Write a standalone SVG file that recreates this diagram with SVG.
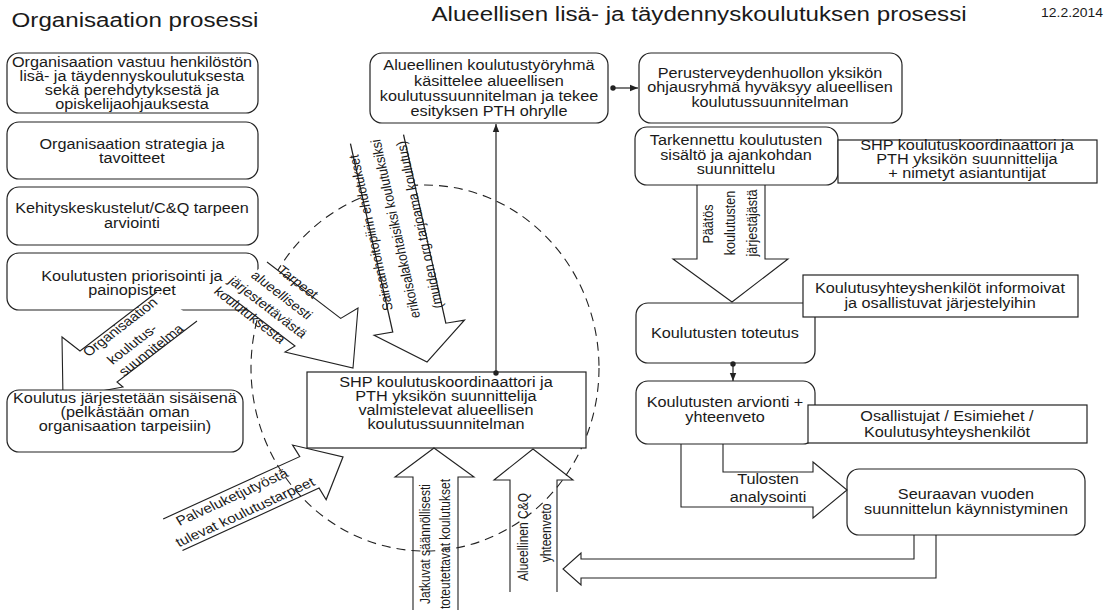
<svg xmlns="http://www.w3.org/2000/svg" width="1107" height="610" viewBox="0 0 1107 610">
<defs>
<style>
text{font-family:"Liberation Sans",Arial,sans-serif;fill:#1a1a1a}
.b{font-size:14px;text-anchor:middle;transform:scaleX(1.16);transform-box:fill-box;transform-origin:center}
.t{font-size:21px;text-anchor:middle;transform:scaleX(1.15);transform-box:fill-box;transform-origin:center}
.d{font-size:12px;text-anchor:middle;transform:scaleX(1.16);transform-box:fill-box;transform-origin:center}
.r{font-size:12px;text-anchor:middle}
.rb{fill:#fff;stroke:#222;stroke-width:1.2}
.ba{fill:none;stroke:#222;stroke-width:1.1;stroke-linejoin:miter}
.bw{fill:#fff;stroke:#222;stroke-width:1.1;stroke-linejoin:miter}
.ln{fill:none;stroke:#222;stroke-width:1.2}
.el{fill:none;stroke:#222;stroke-width:1.1;stroke-dasharray:9 6}
</style>
<marker id="ah" viewBox="0 0 10 10" refX="10" refY="5" markerWidth="9" markerHeight="8" orient="auto" markerUnits="userSpaceOnUse"><path d="M0,1 L10,5 L0,9z" fill="#222"/></marker>
<marker id="dt" viewBox="0 0 10 10" refX="5" refY="5" markerWidth="6" markerHeight="6" orient="auto" markerUnits="userSpaceOnUse"><circle cx="5" cy="5" r="4.5" fill="#222"/></marker>
</defs>
<rect width="1107" height="610" fill="#fff"/>

<g id="titles">
<text class="t" x="135" y="27">Organisaation prosessi</text>
<text class="t" x="699" y="21">Alueellisen lisä- ja täydennyskoulutuksen prosessi</text>
<text class="d" x="1072" y="17">12.2.2014</text>
</g>

<ellipse id="region" class="el" cx="425" cy="368" rx="174" ry="183"/>

<g id="n1"><rect class="rb" x="7" y="53" width="251" height="60" rx="12"/>
<text class="b" x="132" y="67">Organisaation vastuu henkilöstön</text>
<text class="b" x="132" y="81">lisä- ja täydennyskoulutuksesta</text>
<text class="b" x="132" y="95">sekä perehdytyksestä ja</text>
<text class="b" x="132" y="109">opiskelijaohjauksesta</text></g>

<g id="n2"><rect class="rb" x="7" y="122" width="251" height="57" rx="12"/>
<text class="b" x="132" y="149">Organisaation strategia ja</text>
<text class="b" x="132" y="163">tavoitteet</text></g>

<g id="n3"><rect class="rb" x="7" y="187" width="251" height="58" rx="12"/>
<text class="b" x="132" y="213">Kehityskeskustelut/C&amp;Q tarpeen</text>
<text class="b" x="132" y="228">arviointi</text></g>

<g id="n4"><rect class="rb" x="7" y="253" width="251" height="57" rx="12"/>
<text class="b" x="132" y="281">Koulutusten priorisointi ja</text>
<text class="b" x="132" y="295">painopisteet</text></g>

<g id="n6"><rect class="rb" x="370" y="53" width="238" height="70" rx="12"/>
<text class="b" x="489" y="70">Alueellinen koulutustyöryhmä</text>
<text class="b" x="489" y="86">käsittelee alueellisen</text>
<text class="b" x="489" y="101">koulutussuunnitelman ja tekee</text>
<text class="b" x="489" y="116">esityksen PTH ohrylle</text></g>

<g id="n7"><rect class="rb" x="307" y="372" width="279" height="76"/>
<text class="b" x="446" y="387">SHP koulutuskoordinaattori ja</text>
<text class="b" x="446" y="401">PTH yksikön suunnittelija</text>
<text class="b" x="446" y="415">valmistelevat alueellisen</text>
<text class="b" x="446" y="429">koulutussuunnitelman</text></g>

<g id="n8"><rect class="rb" x="639" y="53" width="263" height="70" rx="12"/>
<text class="b" x="770" y="78">Perusterveydenhuollon yksikön</text>
<text class="b" x="770" y="92">ohjausryhmä hyväksyy alueellisen</text>
<text class="b" x="770" y="107">koulutussuunnitelman</text></g>

<g id="n9"><rect class="rb" x="635" y="127" width="203" height="58" rx="12"/>
<text class="b" x="736" y="145">Tarkennettu koulutusten</text>
<text class="b" x="736" y="160">sisältö ja ajankohdan</text>
<text class="b" x="736" y="174">suunnittelu</text></g>

<g id="n10"><rect class="rb" x="838" y="140" width="259" height="43"/>
<text class="b" x="967" y="150">SHP koulutuskoordinaattori ja</text>
<text class="b" x="967" y="164">PTH yksikön suunnittelija</text>
<text class="b" x="967" y="178">+ nimetyt asiantuntijat</text></g>

<g id="n11"><rect class="rb" x="636" y="303" width="179" height="60" rx="12"/>
<text class="b" x="725" y="338">Koulutusten toteutus</text></g>

<g id="n12"><rect class="rb" x="803" y="275" width="275" height="42"/>
<text class="b" x="940" y="293">Koulutusyhteyshenkilöt informoivat</text>
<text class="b" x="940" y="308">ja osallistuvat järjestelyihin</text></g>

<g id="n13"><rect class="rb" x="636" y="381" width="179" height="63" rx="12"/>
<text class="b" x="725" y="407">Koulutusten arvionti +</text>
<text class="b" x="725" y="422">yhteenveto</text></g>

<g id="n14"><rect class="rb" x="808" y="405" width="279" height="38"/>
<text class="b" x="947" y="421">Osallistujat / Esimiehet /</text>
<text class="b" x="947" y="437">Koulutusyhteyshenkilöt</text></g>

<g id="n15"><rect class="rb" x="847" y="469" width="238" height="66" rx="12"/>
<text class="b" x="966" y="499">Seuraavan vuoden</text>
<text class="b" x="966" y="514">suunnittelun käynnistyminen</text></g>

<g id="connectors">
<line class="ln" x1="496" y1="373" x2="496" y2="124" marker-start="url(#dt)" marker-end="url(#ah)"/>
<line class="ln" x1="613" y1="88" x2="638" y2="88" marker-start="url(#dt)" marker-end="url(#ah)"/>
<line class="ln" x1="733" y1="364" x2="733" y2="381" marker-start="url(#dt)" marker-end="url(#ah)"/>

<g id="arrow-org">
<polyline class="bw" points="157,292 80,351 62,337 63,398 123,387 117,382 197,321"/>
<text class="r" style="font-size:13px" transform="translate(120,327) scale(1.16,1) rotate(-41.7)" y="4.5">Organisaation</text>
<text class="r" style="font-size:13px" transform="translate(132,344) scale(1.16,1) rotate(-41.7)" y="4.5">koulutus-</text>
<text class="r" style="font-size:13px" transform="translate(151,350) scale(1.16,1) rotate(-41.7)" y="4.5">suunnitelma</text>
</g>

<g id="arrow-tarpeet">
<polyline class="bw" points="267,262 340.7,318.4 358,308 353,368 285,352 295,346 228,295"/>
<text class="r" style="font-size:12.7px" transform="translate(298,282) scale(1.16,1) rotate(41.7)" y="4.5">Tarpeet</text>
<text class="r" style="font-size:12.7px" transform="translate(282,295) scale(1.16,1) rotate(41.7)" y="4.5">alueellisesti</text>
<text class="r" style="font-size:12.7px" transform="translate(268,307) scale(1.16,1) rotate(41.7)" y="4.5">järjestettävästä</text>
<text class="r" style="font-size:12.7px" transform="translate(250,315) scale(1.16,1) rotate(41.7)" y="4.5">koulutuksesta</text>
</g>

<g id="arrow-shp" transform="translate(427,362) scale(1.16,1) rotate(-10.95)">
<polyline class="bw" points="-23.3,-227 -23.3,-35 -39.7,-35 0,0 39.7,-35 23.3,-35 23.3,-227"/>
<text class="r" style="font-size:12.3px" transform="translate(-23.3,-136) rotate(-90)" y="4.5">Sairaanhoitopiirin ehdotukset</text>
<text class="r" style="font-size:12.3px" transform="translate(-1.7,-136) rotate(-90)" y="4.5">erikoisalakohtaisiksi koulutuksiksi</text>
<text class="r" style="font-size:12.3px" transform="translate(19.4,-136) rotate(-90)" y="4.5">(muiden org.tarjoama koulutus)</text>
</g>

<g id="arrow-palvelu" transform="translate(343,457) scale(1.16,1) rotate(-27.9)">
<polyline class="ba" points="-166,-17.8 -32.8,-17.8 -32.8,-30.9 0,0 -32.8,30.9 -32.8,17.8 -166,17.8"/>
<text class="r" style="font-size:13.3px" transform="translate(-103.3,-9.4)" y="4.5">Palveluketjutyöstä</text>
<text class="r" style="font-size:13.3px" transform="translate(-100.4,9.1)" y="4.5">tulevat koulutustarpeet</text>
</g>

<g id="arrow-jatkuvat">
<polyline class="ba" points="413,610 413,477 395,477 434,448 474,477 458,477 458,610"/>
<text class="r" transform="translate(425,544) scale(1.16,1) rotate(-90)" y="4.5">Jatkuvat säännöllisesti</text>
<text class="r" transform="translate(445,544) scale(1.16,1) rotate(-90)" y="4.5">toteutettavat koulutukset</text>
</g>

<g id="arrow-cq">
<polyline class="ba" points="510,592 510,480 494,480 533,449 573,480 557,480 557,592"/>
<text class="r" transform="translate(523,537) scale(1.16,1) rotate(-90)" y="4.5">Alueellinen C&amp;Q</text>
<text class="r" transform="translate(546,533) scale(1.16,1) rotate(-90)" y="4.5">yhteenveto</text>
</g>

<g id="arrow-paatos">
<polyline class="ba" points="697,185 697,259 673,259 732,302 788,259 765,259 765,185"/>
<text class="r" style="font-size:12.6px" transform="translate(708,224) scale(1.16,1) rotate(-90)" y="4.5">Päätös</text>
<text class="r" style="font-size:12.6px" transform="translate(730,223) scale(1.16,1) rotate(-90)" y="4.5">koulutusten</text>
<text class="r" style="font-size:12.6px" transform="translate(752,223) scale(1.16,1) rotate(-90)" y="4.5">järjestäjästä</text>
</g>

<g id="arrow-tulosten">
<polyline class="ba" points="681,444 681,507 813,507 813,518 847,490 813,462 813,472 723,472 723,444"/>
<text class="b" x="768" y="484">Tulosten</text>
<text class="b" x="768" y="502">analysointi</text>
</g>

<g id="arrow-return">
<polyline class="ba" points="914,535 914,559 581,559 581,553 563,569 581,585 581,578 936,578 936,535"/>
</g>
</g>

<g id="n5"><rect class="rb" x="7" y="390" width="236" height="62" rx="12"/>
<text class="b" x="125" y="403">Koulutus järjestetään sisäisenä</text>
<text class="b" x="125" y="417">(pelkästään oman</text>
<text class="b" x="125" y="431">organisaation tarpeisiin)</text></g>
</svg>
